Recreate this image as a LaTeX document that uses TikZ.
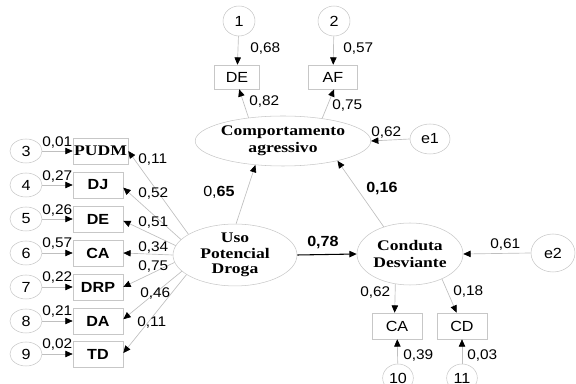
\documentclass[tikz,border=0pt]{standalone}
\usepackage{fontspec}
\setmainfont{Liberation Sans}[FakeStretch=1.1]
\newfontfamily\tnr{Liberation Serif}[FakeStretch=1.2]
\usetikzlibrary{shapes.geometric,arrows.meta}
\definecolor{ln}{gray}{0.75}
\definecolor{sh}{gray}{0.78}
\begin{document}
\begin{tikzpicture}[x=0.75pt,y=-0.75pt,
  lbl/.style={font=\fontsize{10.5}{12}\selectfont, inner sep=0pt, anchor=west},
  blbl/.style={font=\fontsize{11}{13}\selectfont\bfseries, inner sep=0pt, anchor=west},
  errc/.style={draw=sh, ellipse, inner sep=0pt, minimum width=24pt, minimum height=18pt, font=\fontsize{11}{13}\selectfont},
  obs/.style={draw=sh, rectangle, inner sep=0pt, minimum width=37.5pt, minimum height=19.5pt, font=\fontsize{11}{13}\selectfont\bfseries},
  obsn/.style={draw=sh, rectangle, inner sep=0pt, minimum width=37.5pt, minimum height=19.5pt, font=\fontsize{11}{13}\selectfont},
  lat/.style={draw=sh, ellipse, inner sep=0pt, align=center, font=\tnr\fontsize{11}{12.6}\selectfont\bfseries},
  pth/.style={draw=ln, line width=0.5pt, -{Triangle[length=5.5pt,width=4.8pt,black]}},
  mainp/.style={draw=black, line width=0.8pt, -{Triangle[length=5.5pt,width=4.8pt,black]}}]
\useasboundingbox (0,0) rectangle (576,384);

% top indicators
\node[errc, minimum width=24pt, minimum height=22.5pt] (c1) at (239,21) {1};
\node[errc, minimum width=24pt, minimum height=22.5pt] (c2) at (334,21) {2};
\node[obsn, minimum width=33.75pt, minimum height=18pt] (de) at (237,77) {DE};
\node[obsn, minimum width=36.75pt, minimum height=18pt] (af) at (333,77) {AF};

% latent variables
\node[lat, minimum width=105pt, minimum height=37.5pt] (comp) at (283,141) {Comportamento\\agressivo};
\node[lat, minimum width=93pt, minimum height=40.5pt, font=\tnr\fontsize{11}{11.6}\selectfont\bfseries] (uso) at (235,255) {Uso\\Potencial\\Droga};
\node[lat, minimum width=79.5pt, minimum height=46.5pt] (cond) at (410,254) {Conduta\\Desviante};

% error terms
\node[errc, minimum width=30pt, minimum height=22.5pt] (e1) at (430,139) {e1};
\node[errc, minimum width=33pt, minimum height=28.5pt] (e2) at (553,253) {e2};

% bottom indicators
\node[obsn] (cab) at (397,326) {CA};
\node[obsn] (cd) at (462,326) {CD};
\node[errc, minimum width=23pt, minimum height=21pt] (c10) at (398,378) {10};
\node[errc, minimum width=23pt, minimum height=21pt] (c11) at (462,378) {11};

% left indicators
\node[errc] (c3) at (26,151) {3};
\node[errc] (c4) at (26,185) {4};
\node[errc] (c5) at (26,219) {5};
\node[errc] (c6) at (26,253) {6};
\node[errc] (c7) at (26,287) {7};
\node[errc] (c8) at (26,321) {8};
\node[errc] (c9) at (26,354) {9};
\node[obs, minimum width=41.25pt, font=\tnr\fontsize{11}{13}\selectfont\bfseries] (b3) at (100.5,151) {PUDM};
\node[obs] (b4) at (98,185) {DJ};
\node[obs] (b5) at (98,219) {DE};
\node[obs] (b6) at (98,253) {CA};
\node[obs] (b7) at (98,287) {DRP};
\node[obs] (b8) at (98,321) {DA};
\node[obs] (b9) at (98,354) {TD};

% connectors: top
\draw[pth] (c1) -- (de);
\draw[pth] (c2) -- (af);
\draw[pth] (comp.146) -- (de.-80);
\draw[pth] (comp.30) -- (af.-85);
\draw[pth] (e1.west) -- (comp.east);
\draw[pth] (uso.88) -- (comp.221);
\draw[pth] (cond.134) -- (comp.-20);
\draw[mainp] (uso.east) -- (cond.west);
\draw[pth] (e2.west) -- (cond.east);
\draw[pth] (cond.244) -- (cab.100);
\draw[pth] (cond.-38) -- (cd.112);
\draw[pth] (c10) -- (cab);
\draw[pth] (c11) -- (cd);

% connectors: left
\draw[pth] (c3) -- (b3);
\draw[pth] (c4) -- (b4);
\draw[pth] (c5) -- (b5);
\draw[pth] (c6) -- (b6);
\draw[pth] (c7) -- (b7);
\draw[pth] (c8) -- (b8);
\draw[pth] (c9) -- (b9);
\draw[pth] (uso.156) -- (b3.east);
\draw[pth] (uso.164) -- (b4.-6);
\draw[pth] (uso.171) -- (b5.-4);
\draw[pth] (uso.180) -- (b6.east);
\draw[pth] (uso.187) -- (b7.east);
\draw[pth] (uso.197) -- (b8.4);
\draw[pth] (uso.202) -- (b9.2);

% labels
\node[lbl] (l68) at (250,49) {0,68};
\node[lbl] (l57) at (343,49) {0,57};
\node[lbl] (l82) at (249,102) {0,82};
\node[lbl] (l75t) at (332,106) {0,75};
\node[lbl] (l62a) at (371,133) {0,62};
\node[lbl, font=\fontsize{11}{13}\selectfont] (l65) at (203,192) {0,\textbf{65}};
\node[blbl] (l16) at (366,189) {0,16};
\node[blbl] (l78) at (307,243) {0,78};
\node[lbl] (l61) at (490,245) {0,61};
\node[lbl] (l62b) at (360,293) {0,62};
\node[lbl] (l18) at (453,292) {0,18};
\node[lbl] (l39) at (403,356) {0,39};
\node[lbl] (l03) at (467,356) {0,03};

\node[lbl] (e3) at (42,143) {0,01};
\node[lbl] (e4) at (42,177) {0,27};
\node[lbl] (e5) at (42,211) {0,26};
\node[lbl] (e6) at (42,244) {0,57};
\node[lbl] (e7) at (42,278) {0,22};
\node[lbl] (e8) at (42,312) {0,21};
\node[lbl] (e9) at (42,345) {0,02};

\node[lbl] (r3) at (138,160) {0,11};
\node[lbl] (r4) at (138,194) {0,52};
\node[lbl] (r5) at (138,223) {0,51};
\node[lbl] (r6) at (138,248) {0,34};
\node[lbl] (r7) at (138,267) {0,75};
\node[lbl] (r8) at (140,294) {0,46};
\node[lbl] (r9) at (137,323) {0,11};
\end{tikzpicture}
\end{document}
